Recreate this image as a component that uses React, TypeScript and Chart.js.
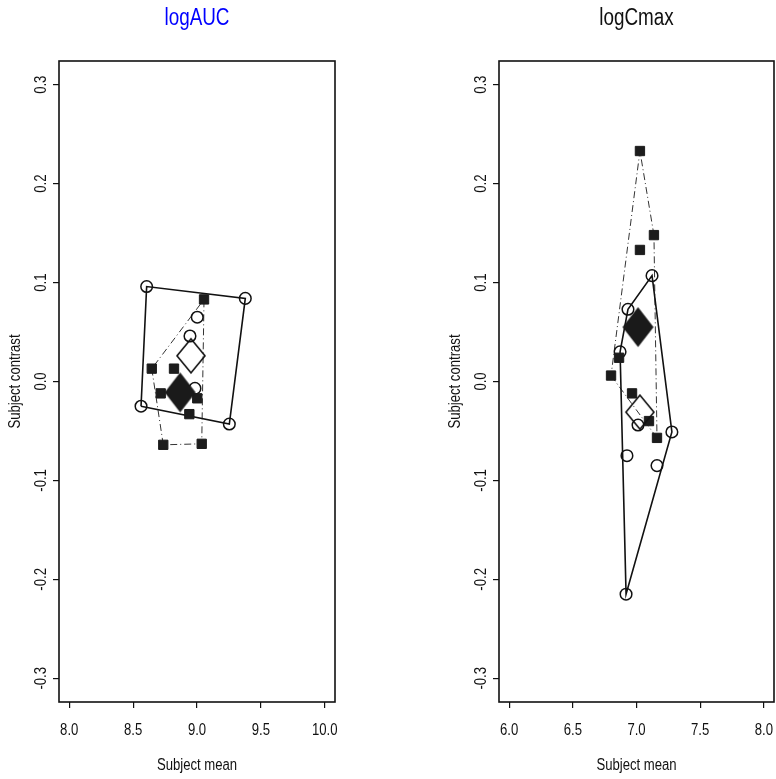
import React, { useEffect, useRef } from 'react';
import { Chart, registerables } from 'chart.js';
Chart.register(...registerables);

// ---------- data ----------
const aucCircleX = [8.606, 9.378, 9.002, 8.945, 8.984, 8.562, 9.253, 8.894];
const aucCircleY = [0.096, 0.084, 0.065, 0.046, -0.007, -0.025, -0.043, -0.008];
const aucSquareX = [9.055, 8.646, 8.82, 8.716, 9.002, 8.94, 8.736, 9.037];
const aucSquareY = [0.083, 0.013, 0.013, -0.012, -0.017, -0.033, -0.064, -0.063];
const aucOpenDiamond = [8.953, 0.026];
const aucFilledDiamond = [8.868, -0.011];

const cmaxCircleX = [7.122, 6.933, 6.871, 7.012, 7.278, 6.925, 7.161, 6.918];
const cmaxCircleY = [0.107, 0.073, 0.03, -0.044, -0.051, -0.075, -0.085, -0.215];
const cmaxSquareX = [7.027, 7.137, 7.027, 6.863, 6.8, 6.965, 7.098, 7.161];
const cmaxSquareY = [0.233, 0.148, 0.133, 0.024, 0.006, -0.012, -0.04, -0.057];
const cmaxOpenDiamond = [7.027, -0.031];
const cmaxFilledDiamond = [7.012, 0.055];

const aucXTicks = [8.0, 8.5, 9.0, 9.5, 10.0];
const cmaxXTicks = [6.0, 6.5, 7.0, 7.5, 8.0];
const yTicks = [-0.3, -0.2, -0.1, 0.0, 0.1, 0.2, 0.3];

const aucTitle = 'logAUC';
const cmaxTitle = 'logCmax';
const xLabel = 'Subject mean';
const yLabel = 'Subject contrast';

// ---------- helpers ----------
function toPts(xs: number[], ys: number[]) {
  return xs.map((x, i) => ({ x, y: ys[i] }));
}

function hull(xs: number[], ys: number[]) {
  const pts = toPts(xs, ys).sort((a, b) => a.x - b.x || a.y - b.y);
  const cross = (o: any, a: any, b: any) => (a.x - o.x) * (b.y - o.y) - (a.y - o.y) * (b.x - o.x);
  const lower: any[] = [];
  for (const p of pts) {
    while (lower.length >= 2 && cross(lower[lower.length - 2], lower[lower.length - 1], p) <= 0) lower.pop();
    lower.push(p);
  }
  const upper: any[] = [];
  for (const p of [...pts].reverse()) {
    while (upper.length >= 2 && cross(upper[upper.length - 2], upper[upper.length - 1], p) <= 0) upper.pop();
    upper.push(p);
  }
  upper.pop();
  lower.pop();
  const h = lower.concat(upper);
  h.push(h[0]);
  return h;
}

function diamond(w: number, h: number, filled: boolean) {
  const c = document.createElement('canvas');
  c.width = w + 4;
  c.height = h + 4;
  const ctx = c.getContext('2d')!;
  ctx.beginPath();
  ctx.moveTo(c.width / 2, 2);
  ctx.lineTo(c.width - 2, c.height / 2);
  ctx.lineTo(c.width / 2, c.height - 2);
  ctx.lineTo(2, c.height / 2);
  ctx.closePath();
  if (filled) {
    ctx.fillStyle = '#1a1a1a';
    ctx.fill();
  } else {
    ctx.lineWidth = 1.6;
    ctx.strokeStyle = '#111';
    ctx.stroke();
  }
  return c;
}

const framePlugin = {
  id: 'frame',
  afterDatasetsDraw(chart: any) {
    const { ctx, chartArea: a } = chart;
    ctx.save();
    ctx.strokeStyle = '#111';
    ctx.lineWidth = 1.6;
    ctx.strokeRect(a.left, a.top, a.right - a.left, a.bottom - a.top);
    ctx.restore();
  },
};

// condense text horizontally (Helvetica-Narrow look) using fillText's maxWidth
function condense(ctx: CanvasRenderingContext2D, factor: number) {
  const orig = ctx.fillText.bind(ctx);
  (ctx as any).fillText = (t: string, x: number, y: number, mw?: number) => {
    const w = ctx.measureText(t).width * factor;
    orig(t, x, y, mw !== undefined && mw < w ? mw : w);
  };
}

type PanelCfg = {
  left: number;
  width: number;
  title: string;
  titleColor: string;
  circleX: number[];
  circleY: number[];
  squareX: number[];
  squareY: number[];
  openD: number[];
  filledD: number[];
  xTicks: number[];
  padLeft: number;
  padRight: number;
};

function Panel({ cfg }: { cfg: PanelCfg }) {
  const ref = useRef<HTMLCanvasElement>(null);
  useEffect(() => {
    const canvas = ref.current!;
    const c2d = canvas.getContext('2d')!;
    condense(c2d, 0.82);
    const fam = '"Liberation Sans", Arial, Helvetica, sans-serif';
    const tickFont = { family: fam, size: 16, weight: 'normal' as const };
    const titleFont = { family: fam, size: 23, weight: 'normal' as const };
    const txt = '#111';

    const xr = cfg.xTicks[cfg.xTicks.length - 1] - cfg.xTicks[0];
    const yr = yTicks[yTicks.length - 1] - yTicks[0];
    const xMin = cfg.xTicks[0] - 0.04 * xr;
    const xMax = cfg.xTicks[cfg.xTicks.length - 1] + 0.04 * xr;
    const yMin = yTicks[0] - 0.04 * yr;
    const yMax = yTicks[yTicks.length - 1] + 0.04 * yr;

    const grid = { drawOnChartArea: false, drawTicks: true, tickLength: 6, color: '#111', lineWidth: 1.2 };

    const chart = new Chart(canvas, {
      type: 'scatter',
      data: {
        datasets: [
          {
            data: [{ x: cfg.filledD[0], y: cfg.filledD[1] }],
            pointStyle: diamond(31, 40, true) as any,
            pointRadius: 16,
            order: 0,
          },
          {
            data: [{ x: cfg.openD[0], y: cfg.openD[1] }],
            pointStyle: diamond(28, 34, false) as any,
            pointRadius: 15,
            order: 0,
          },
          {
            data: toPts(cfg.squareX, cfg.squareY),
            pointStyle: 'rect',
            pointRadius: 6.6,
            backgroundColor: '#1c1c1c',
            borderColor: '#1c1c1c',
            borderWidth: 1,
            order: 1,
          },
          {
            data: toPts(cfg.circleX, cfg.circleY),
            pointStyle: 'circle',
            pointRadius: 5.8,
            backgroundColor: 'rgba(0,0,0,0)',
            borderColor: '#111',
            borderWidth: 1.5,
            order: 1,
          },
          {
            data: hull(cfg.circleX, cfg.circleY),
            showLine: true,
            pointRadius: 0,
            borderColor: '#111',
            borderWidth: 1.6,
            order: 2,
          },
          {
            data: hull(cfg.squareX, cfg.squareY),
            showLine: true,
            pointRadius: 0,
            borderColor: '#333',
            borderWidth: 1,
            borderDash: [7, 3, 1, 3],
            order: 2,
          },
        ],
      },
      options: {
        animation: false,
        responsive: false,
        events: [],
        layout: { padding: { left: cfg.padLeft, right: cfg.padRight, top: 0, bottom: 0 } },
        plugins: {
          legend: { display: false },
          tooltip: { enabled: false },
          title: {
            display: true,
            text: cfg.title,
            color: cfg.titleColor,
            font: titleFont,
            fullSize: false,
            padding: { top: 5, bottom: 28.4 },
          },
        },
        scales: {
          x: {
            type: 'linear',
            min: xMin,
            max: xMax,
            afterBuildTicks: (s: any) => {
              s.ticks = cfg.xTicks.map((v) => ({ value: v }));
            },
            afterFit: (s: any) => {
              s.height = 77;
            },
            ticks: {
              callback: (v: any) => Number(v).toFixed(1),
              font: tickFont,
              color: txt,
              padding: 13,
              autoSkip: false,
              maxRotation: 0,
              minRotation: 0,
            },
            grid,
            border: { display: false },
            title: { display: true, text: xLabel, font: tickFont, color: txt, padding: { top: 0, bottom: 3.4 } },
          },
          y: {
            type: 'linear',
            min: yMin,
            max: yMax,
            afterBuildTicks: (s: any) => {
              s.ticks = yTicks.map((v) => ({ value: v }));
            },
            afterFit: (s: any) => {
              s.width = 59;
            },
            ticks: {
              callback: (v: any) => Number(v).toFixed(1),
              font: tickFont,
              color: txt,
              padding: -2,
              autoSkip: false,
              minRotation: 90,
              maxRotation: 90,
              crossAlign: 'center',
            },
            grid,
            border: { display: false },
            title: { display: true, text: yLabel, font: tickFont, color: txt, padding: { top: 6, bottom: 0 } },
          },
        },
      } as any,
      plugins: [framePlugin],
    });
    return () => chart.destroy();
  }, []);
  return (
    <canvas
      ref={ref}
      width={cfg.width}
      height={779}
      style={{ position: 'absolute', left: cfg.left, top: 0, width: cfg.width, height: 779, display: 'block' }}
    />
  );
}

export default function App() {
  const left: PanelCfg = {
    left: 0,
    width: 388,
    title: aucTitle,
    titleColor: '#0000ff',
    circleX: aucCircleX,
    circleY: aucCircleY,
    squareX: aucSquareX,
    squareY: aucSquareY,
    openD: aucOpenDiamond,
    filledD: aucFilledDiamond,
    xTicks: aucXTicks,
    padLeft: 0,
    padRight: 53,
  };
  const right: PanelCfg = {
    left: 388,
    width: 418,
    title: cmaxTitle,
    titleColor: '#111',
    circleX: cmaxCircleX,
    circleY: cmaxCircleY,
    squareX: cmaxSquareX,
    squareY: cmaxSquareY,
    openD: cmaxOpenDiamond,
    filledD: cmaxFilledDiamond,
    xTicks: cmaxXTicks,
    padLeft: 52,
    padRight: 32,
  };
  return (
    <div
      style={{ position: 'absolute', left: 0, top: 0, width: 776, height: 779, overflow: 'hidden', background: '#fff' }}
    >
      <Panel cfg={left} />
      <Panel cfg={right} />
    </div>
  );
}
